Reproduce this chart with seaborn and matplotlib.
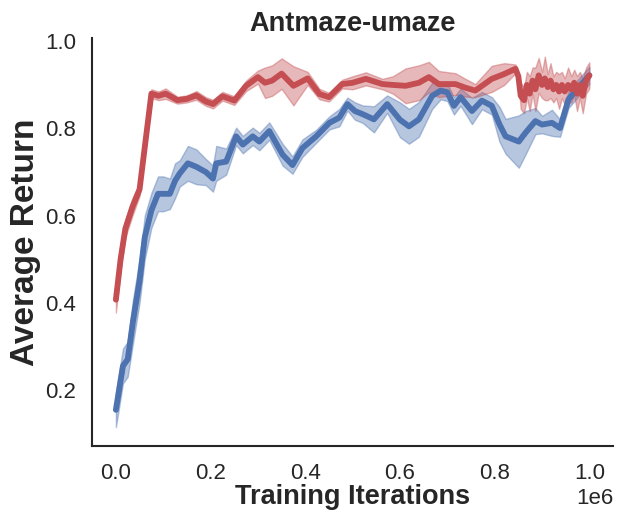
import numpy as np
import pandas as pd
import matplotlib
matplotlib.use('Agg')
import matplotlib.pyplot as plt
import seaborn as sns

# iterations in units of 1e6
red_x = [0.0, 0.01, 0.02, 0.035, 0.05, 0.075, 0.09, 0.105, 0.13, 0.15, 0.17, 0.19, 0.205, 0.225, 0.25,
         0.275, 0.3, 0.315, 0.33, 0.35, 0.375, 0.405, 0.43, 0.45, 0.478, 0.5, 0.528, 0.563, 0.585,
         0.612, 0.64, 0.661, 0.682, 0.717, 0.74, 0.759, 0.794, 0.82, 0.844, 0.85, 0.855, 0.862,
         0.868, 0.874, 0.88, 0.886, 0.893, 0.9, 0.906, 0.912, 0.918, 0.924, 0.93, 0.936, 0.942,
         0.948, 0.955, 0.962, 0.968, 0.974, 0.98, 0.986, 0.993, 1.0]
red_mean = [0.407, 0.5, 0.57, 0.62, 0.66, 0.88, 0.875, 0.88, 0.865, 0.868, 0.876, 0.862, 0.856, 0.874, 0.864,
            0.898, 0.918, 0.905, 0.91, 0.926, 0.898, 0.915, 0.879, 0.872, 0.902, 0.905, 0.914, 0.902, 0.9,
            0.898, 0.905, 0.918, 0.902, 0.902, 0.893, 0.887, 0.914, 0.925, 0.937, 0.92, 0.875, 0.865,
            0.9, 0.88, 0.91, 0.89, 0.922, 0.9, 0.915, 0.895, 0.91, 0.89, 0.9, 0.885, 0.9,
            0.885, 0.9, 0.89, 0.905, 0.88, 0.9, 0.875, 0.91, 0.922]
red_spread = [0.03, 0.025, 0.02, 0.02, 0.015, 0.01, 0.01, 0.012, 0.008, 0.008, 0.01, 0.01, 0.01, 0.01, 0.01,
              0.012, 0.015, 0.035, 0.035, 0.035, 0.045, 0.015, 0.012, 0.01, 0.01, 0.015, 0.015, 0.012, 0.02,
              0.04, 0.04, 0.035, 0.03, 0.025, 0.02, 0.015, 0.03, 0.025, 0.01, 0.01, 0.03, 0.03,
              0.03, 0.04, 0.03, 0.05, 0.04, 0.03, 0.05, 0.03, 0.04, 0.03, 0.03, 0.04, 0.03,
              0.03, 0.04, 0.03, 0.03, 0.04, 0.03, 0.04, 0.03, 0.03]

blue_x = [0.0, 0.015, 0.025, 0.036, 0.05, 0.061, 0.075, 0.089, 0.1, 0.114, 0.125, 0.135, 0.152, 0.17,
          0.19, 0.205, 0.212, 0.233, 0.254, 0.268, 0.289, 0.303, 0.324, 0.352, 0.373, 0.394, 0.423,
          0.451, 0.472, 0.489, 0.505, 0.521, 0.545, 0.573, 0.6, 0.619, 0.64, 0.668, 0.686, 0.7, 0.714,
          0.728, 0.752, 0.773, 0.794, 0.81, 0.823, 0.851, 0.865, 0.886, 0.9, 0.921, 0.938, 0.956,
          0.977, 1.0]
blue_mean = [0.154, 0.255, 0.27, 0.356, 0.45, 0.55, 0.612, 0.65, 0.65, 0.65, 0.68, 0.697, 0.72, 0.712,
             0.7, 0.685, 0.72, 0.724, 0.782, 0.763, 0.782, 0.77, 0.794, 0.74, 0.716, 0.755, 0.782,
             0.813, 0.825, 0.856, 0.84, 0.833, 0.821, 0.856, 0.82, 0.805, 0.821, 0.875, 0.887, 0.883, 0.852,
             0.872, 0.84, 0.864, 0.852, 0.81, 0.782, 0.77, 0.79, 0.817, 0.809, 0.813, 0.801, 0.867,
             0.894, 0.922]
blue_spread = [0.04, 0.04, 0.04, 0.05, 0.05, 0.05, 0.04, 0.04, 0.04, 0.035, 0.04, 0.03, 0.04, 0.04,
               0.03, 0.03, 0.04, 0.03, 0.02, 0.02, 0.02, 0.02, 0.02, 0.025, 0.02, 0.02, 0.015,
               0.015, 0.02, 0.015, 0.02, 0.02, 0.03, 0.02, 0.04, 0.04, 0.04, 0.03, 0.02, 0.02, 0.02,
               0.02, 0.03, 0.02, 0.02, 0.04, 0.04, 0.06, 0.05, 0.03, 0.02, 0.03, 0.02, 0.02,
               0.02, 0.02]

sns.set_theme(style="white")
plt.rcParams['font.family'] = ['Liberation Sans', 'DejaVu Sans']

red_df = pd.DataFrame({'step': np.array(red_x) * 1e6, 'ret': red_mean, 'sd': red_spread})
blue_df = pd.DataFrame({'step': np.array(blue_x) * 1e6, 'ret': blue_mean, 'sd': blue_spread})

fig, ax = plt.subplots(figsize=(6.23, 5.22), dpi=100)
fig.subplots_adjust(left=0.148, right=0.984, top=0.927, bottom=0.146)

for d, c in [(blue_df, '#4C72B0'), (red_df, '#C44E52')]:
    ax.fill_between(d['step'], d['ret'] - d['sd'], d['ret'] + d['sd'], color=c, alpha=0.4, lw=1)
    sns.lineplot(data=d, x='step', y='ret', color=c, linewidth=4.2, ax=ax)

sns.despine(ax=ax)
ax.set_title("Antmaze-umaze", fontsize=19.5, fontweight='bold', pad=5)
ax.set_xlabel("Training Iterations", fontsize=19.5, fontweight='bold', labelpad=0)
ax.set_ylabel("Average Return", fontsize=24, fontweight='bold', labelpad=3)
ax.tick_params(axis='x', labelsize=16, pad=6.5)
ax.tick_params(axis='y', labelsize=16, pad=5.5)
ax.xaxis.get_offset_text().set_fontsize(16)
for s in ax.spines.values():
    s.set_color('#262626')
    s.set_linewidth(1.5)

fig.savefig('out.png')
